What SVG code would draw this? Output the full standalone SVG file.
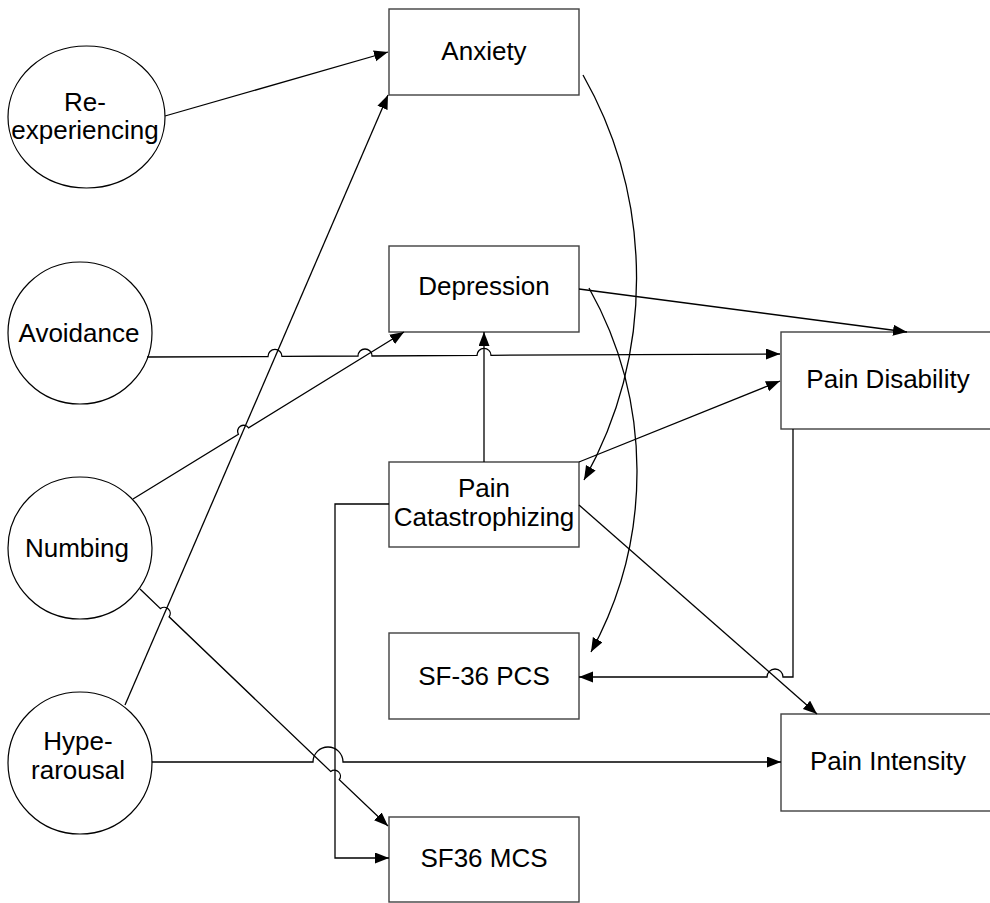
<svg xmlns="http://www.w3.org/2000/svg" width="990" height="903" viewBox="0 0 990 903">
  <style>
    .box { fill: #ffffff; stroke: #404040; stroke-width: 1.4; }
    .oval { fill: #ffffff; stroke: #000000; stroke-width: 1.2; }
    .lbl { font-family: "Liberation Sans", Arial, sans-serif; font-size: 26px; fill: #000000; text-anchor: middle; }
    .edge { fill: none; stroke: #000000; stroke-width: 1.3; marker-end: url(#arrow); }
  </style>
  <defs>
    <marker id="arrow" markerUnits="userSpaceOnUse" markerWidth="15" markerHeight="12" refX="14" refY="5.5" orient="auto">
      <path d="M0,0 L14,5.5 L0,11 Z" fill="#000000"/>
    </marker>
  </defs>
  <rect width="990" height="903" fill="#ffffff"/>

  <!-- latent PTSD clusters -->
  <g id="reexperiencing">
    <ellipse class="oval" cx="86.5" cy="117" rx="78.5" ry="71"/>
    <text class="lbl" x="85" y="111">Re-</text>
    <text class="lbl" x="85" y="139">experiencing</text>
  </g>
  <g id="avoidance">
    <ellipse class="oval" cx="80" cy="333" rx="72" ry="71"/>
    <text class="lbl" x="79" y="342">Avoidance</text>
  </g>
  <g id="numbing">
    <ellipse class="oval" cx="80" cy="548" rx="72" ry="71"/>
    <text class="lbl" x="77" y="557">Numbing</text>
  </g>
  <g id="hyperarousal">
    <ellipse class="oval" cx="80" cy="763" rx="72" ry="71"/>
    <text class="lbl" x="78" y="750">Hype-</text>
    <text class="lbl" x="78" y="779">rarousal</text>
  </g>

  <!-- observed measures -->
  <g id="anxiety">
    <rect class="box" x="389" y="9" width="190" height="86"/>
    <text class="lbl" x="484" y="60">Anxiety</text>
  </g>
  <g id="depression">
    <rect class="box" x="389" y="246" width="190" height="86"/>
    <text class="lbl" x="484" y="295">Depression</text>
  </g>
  <g id="catastrophizing">
    <rect class="box" x="389" y="462" width="190" height="85"/>
    <text class="lbl" x="484" y="497">Pain</text>
    <text class="lbl" x="484" y="526">Catastrophizing</text>
  </g>
  <g id="sf36pcs">
    <rect class="box" x="389" y="633" width="190" height="86"/>
    <text class="lbl" x="484" y="685">SF-36 PCS</text>
  </g>
  <g id="sf36mcs">
    <rect class="box" x="389" y="817" width="190" height="85"/>
    <text class="lbl" x="484" y="867">SF36 MCS</text>
  </g>
  <g id="paindisability">
    <rect class="box" x="781" y="332" width="220" height="97"/>
    <text class="lbl" x="888" y="388">Pain Disability</text>
  </g>
  <g id="painintensity">
    <rect class="box" x="781" y="714" width="220" height="97"/>
    <text class="lbl" x="888" y="770">Pain Intensity</text>
  </g>

  <!-- paths; small arcs are line jumps over crossing connectors -->
  <g id="connectors">
    <path class="edge" d="M165,116 L388,52"/>
    <path class="edge" d="M125,705 L388,95"/>
    <path class="edge" d="M147,357 L268,356.5 A7,7 0 0,1 282,356.4 L358,356 A7,7 0 0,1 372,356 L477,355.4 A7,7 0 0,1 491,355.3 L780,354"/>
    <path class="edge" d="M133,499 L238.4,434.2 A6,6 0 0,1 248.6,427.9 L404,332"/>
    <path class="edge" d="M140,589 L160.5,608.6 A6,6 0 0,1 169.1,616.8 L330.7,771.5 A6,6 0 0,1 339.3,779.7 L388,826"/>
    <path class="edge" d="M152,762 L313,762 A15,15 0 0,1 343,762 L781,762"/>
    <path class="edge" d="M579,289 L907,332"/>
    <path class="edge" d="M484,462 L484,332"/>
    <path class="edge" d="M579,462 L780,381"/>
    <path class="edge" d="M579,505 L817,714"/>
    <path class="edge" d="M389,504 L335,504 L335,858 L389,858"/>
    <path class="edge" d="M793,429 L793,677 L783,677 A8,8 0 0,0 767,677 L579,677"/>
    <path class="edge" d="M583,75 A413,413 0 0,1 584,480"/>
    <path class="edge" d="M589,288 A376,376 0 0,1 591,652"/>
  </g>
</svg>
